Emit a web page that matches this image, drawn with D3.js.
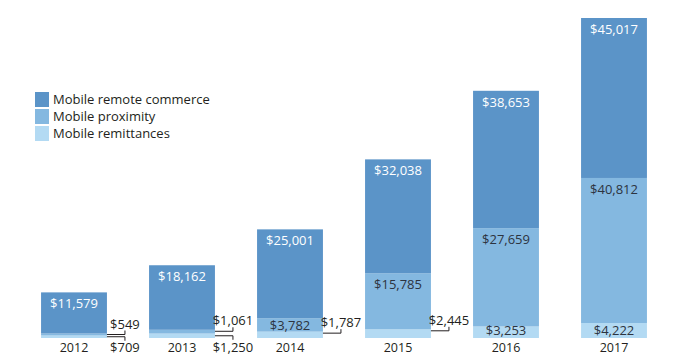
<!DOCTYPE html>
<html>
<head>
<meta charset="utf-8">
<script src="https://cdn.jsdelivr.net/npm/d3@7"></script>
<style>
  body { margin: 0; background: #fff; }
  svg { display: block; font-family: "Open Sans", sans-serif; }
</style>
</head>
<body>
<div id="chart"></div>
<script>
// chart values (US$ millions)
const years = ["2012", "2013", "2014", "2015", "2016", "2017"];
const remoteCommerce = [11579, 18162, 25001, 32038, 38653, 45017];
const proximity = [549, 1061, 3782, 15785, 27659, 40812];
const remittances = [709, 1250, 1787, 2445, 3253, 4222];

const seriesNames = ["Mobile remote commerce", "Mobile proximity", "Mobile remittances"];
const seriesKeys = ["remote", "proximity", "remittances"];
const colors = ["#5b94c8", "#84b8e0", "#b3daf3"];

// where the small values are written: "in", "above" or "below" (callout)
const proximityPlace = ["above", "above", "in", "in", "in", "in"];
const remittancesPlace = ["below", "below", "above", "above", "in", "in"];

const width = 684, height = 364;

const table = years.map((y, i) => ({
  year: y,
  remote: remoteCommerce[i],
  proximity: proximity[i],
  remittances: remittances[i]
}));

const svg = d3.select("#chart").append("svg")
    .attr("width", width)
    .attr("height", height);

const x = d3.scaleBand()
    .domain(years)
    .range([20, 668])
    .paddingInner(0.39)
    .paddingOuter(0.195);

const maxTotal = d3.max(table, d => d.remote + d.proximity + d.remittances);
const y = d3.scaleLinear()
    .domain([0, maxTotal])
    .range([338, 18]);

// stack from bottom: remittances, proximity, remote commerce
const stack = d3.stack().keys(["remittances", "proximity", "remote"]);
const layers = stack(table);
const colorOf = { remote: colors[0], proximity: colors[1], remittances: colors[2] };

svg.append("g")
  .selectAll("g")
  .data(layers)
  .join("g")
    .attr("fill", d => colorOf[d.key])
  .selectAll("rect")
  .data(d => d)
  .join("rect")
    .attr("x", d => x(d.data.year))
    .attr("width", x.bandwidth())
    .attr("y", d => y(d[1]))
    .attr("height", d => y(d[0]) - y(d[1]));

const fmt = v => "$" + d3.format(",")(v);
const labels = svg.append("g").attr("font-size", 13);

// remote commerce labels (white, top of bar)
const remoteLayer = layers.find(l => l.key === "remote");
labels.selectAll("text.remote")
  .data(remoteLayer)
  .join("text")
    .attr("class", "remote")
    .attr("x", d => x(d.data.year) + x.bandwidth() / 2)
    .attr("y", d => y(d[1]) + 16)
    .attr("text-anchor", "middle")
    .attr("fill", "#fff")
    .text(d => fmt(d.data.remote));

// inside labels for proximity / remittances
const proxLayer = layers.find(l => l.key === "proximity");
const remLayer = layers.find(l => l.key === "remittances");

labels.selectAll("text.prox")
  .data(proxLayer.filter((d, i) => proximityPlace[i] === "in"))
  .join("text")
    .attr("class", "prox")
    .attr("x", d => x(d.data.year) + x.bandwidth() / 2)
    .attr("y", d => Math.min(y(d[1]) + 16, y(d[0]) - 2))
    .attr("text-anchor", "middle")
    .attr("fill", "#2d3440")
    .text(d => fmt(d.data.proximity));

labels.selectAll("text.rem")
  .data(remLayer.filter((d, i) => remittancesPlace[i] === "in"))
  .join("text")
    .attr("class", "rem")
    .attr("x", d => x(d.data.year) + x.bandwidth() / 2)
    .attr("y", d => y(0) - 3)
    .attr("text-anchor", "middle")
    .attr("fill", "#2d3440")
    .text(d => fmt(d.data.remittances));

// callouts for the thin segments
const callouts = [];
proxLayer.forEach((d, i) => {
  if (proximityPlace[i] !== "in") callouts.push({ seg: d, value: d.data.proximity, place: proximityPlace[i] });
});
remLayer.forEach((d, i) => {
  if (remittancesPlace[i] !== "in") callouts.push({ seg: d, value: d.data.remittances, place: remittancesPlace[i] });
});

const co = svg.append("g");
callouts.forEach(c => {
  const x0 = x(c.seg.data.year) + x.bandwidth();
  const x1 = x0 + 18;
  const top = y(c.seg[1]), bot = y(c.seg[0]);
  const ly = c.place === "above"
    ? top + Math.min(1.5, (bot - top) / 2)
    : (top + bot) / 2;
  const dir = c.place === "above" ? -1 : 1;
  co.append("path")
      .attr("d", `M${x0},${ly}H${x1}V${ly + dir * 4}`)
      .attr("fill", "none")
      .attr("stroke", "#231f20")
      .attr("stroke-width", 1);
  co.append("text")
      .attr("x", x1)
      .attr("y", c.place === "above" ? ly - 6 : y(0) + 14)
      .attr("text-anchor", "middle")
      .attr("font-size", 13)
      .attr("fill", "#231f20")
      .text(fmt(c.value));
});

// year labels
svg.append("g")
  .selectAll("text")
  .data(years)
  .join("text")
    .attr("x", d => x(d) + x.bandwidth() / 2)
    .attr("y", y(0) + 14)
    .attr("text-anchor", "middle")
    .attr("font-size", 12.5)
    .attr("fill", "#231f20")
    .text(d => d);

// legend
const legend = svg.append("g").attr("transform", "translate(35,92)");
const item = legend.selectAll("g")
  .data(seriesNames)
  .join("g")
    .attr("transform", (d, i) => `translate(0,${i * 17})`);
item.append("rect")
    .attr("width", 14)
    .attr("height", 15)
    .attr("fill", (d, i) => colors[i]);
item.append("text")
    .attr("x", 18)
    .attr("y", 12)
    .attr("font-size", 13)
    .attr("fill", "#231f20")
    .text(d => d);
</script>
</body>
</html>
